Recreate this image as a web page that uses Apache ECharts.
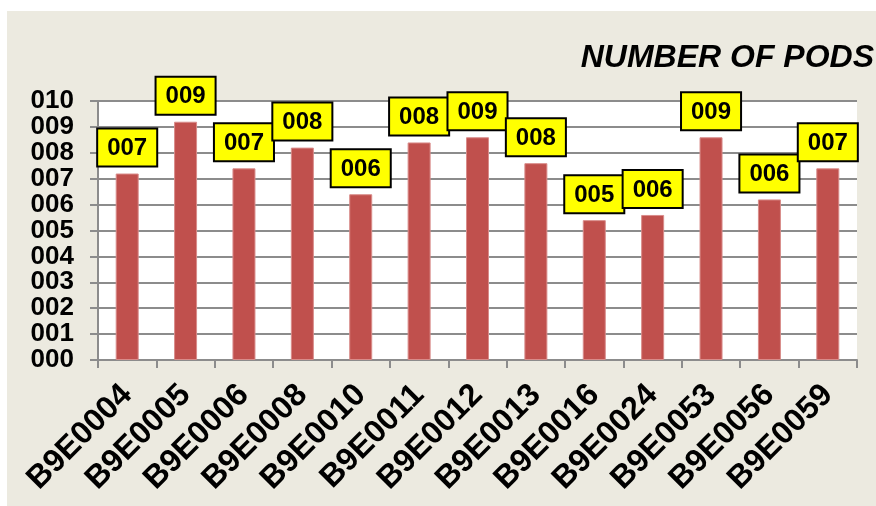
<!DOCTYPE html>
<html>
<head>
<meta charset="utf-8">
<script src="https://cdn.jsdelivr.net/npm/echarts@6/dist/echarts.min.js"></script>
<style>
  html, body { margin: 0; padding: 0; background: #ffffff; }
  #chart { position: absolute; left: 7px; top: 11px; width: 869px; height: 495px; background: #ECEAE0; }
</style>
</head>
<body>
<div id="chart"></div>
<script>
// Plant IDs along the x axis
const categories = ['B9E0004', 'B9E0005', 'B9E0006', 'B9E0008', 'B9E0010', 'B9E0011', 'B9E0012',
                    'B9E0013', 'B9E0016', 'B9E0024', 'B9E0053', 'B9E0056', 'B9E0059'];
// Number of pods per plant
const pods = [7.2, 9.2, 7.4, 8.2, 6.4, 8.4, 8.6, 7.6, 5.4, 5.6, 8.6, 6.2, 7.4];
// Value axis range
const yMin = 0, yMax = 10, yStep = 1;

const font = 'Arial, "Liberation Sans", sans-serif';
const pad3 = v => String(Math.round(v)).padStart(3, '0');

const chart = echarts.init(document.getElementById('chart'), null, { renderer: 'canvas' });
chart.setOption({
  backgroundColor: '#ECEAE0',
  animation: false,
  title: {
    text: 'NUMBER OF PODS',
    right: -3,
    top: 26,
    textStyle: { fontFamily: font, fontSize: 32, fontWeight: 'bold', fontStyle: 'italic', color: '#000' }
  },
  grid: {
    left: 91, right: 19, top: 90, bottom: 146,
    show: true, backgroundColor: '#ffffff', borderWidth: 0
  },
  xAxis: {
    type: 'category',
    data: categories,
    axisLine: { lineStyle: { color: '#8c8c8c', width: 2 } },
    axisTick: { show: true, length: 8, lineStyle: { color: '#8c8c8c', width: 2 } },
    axisLabel: {
      rotate: 45, margin: 30, interval: 0,
      fontFamily: font, fontSize: 32, fontWeight: 'bold', color: '#000'
    }
  },
  yAxis: {
    type: 'value',
    min: yMin, max: yMax, interval: yStep,
    axisLine: { show: true, lineStyle: { color: '#8c8c8c', width: 2 } },
    axisTick: { show: true, length: 8, lineStyle: { color: '#8c8c8c', width: 2 } },
    splitLine: { show: true, lineStyle: { color: '#8c8c8c', width: 2 } },
    axisLabel: {
      margin: 24, formatter: pad3,
      fontFamily: font, fontSize: 26, fontWeight: 'bold', color: '#000'
    }
  },
  series: [{
    type: 'bar',
    data: pods,
    barWidth: 23,
    itemStyle: { color: '#C0504D', borderColor: '#d98c8a', borderWidth: 1 },
    label: {
      show: true,
      position: 'top',
      distance: 8,
      formatter: p => pad3(p.value),
      fontFamily: font, fontSize: 24, fontWeight: 'bold', color: '#000',
      backgroundColor: '#FFFF00',
      borderColor: '#000', borderWidth: 2,
      padding: [7, 9, 5, 9]
    }
  }]
});
</script>
</body>
</html>
